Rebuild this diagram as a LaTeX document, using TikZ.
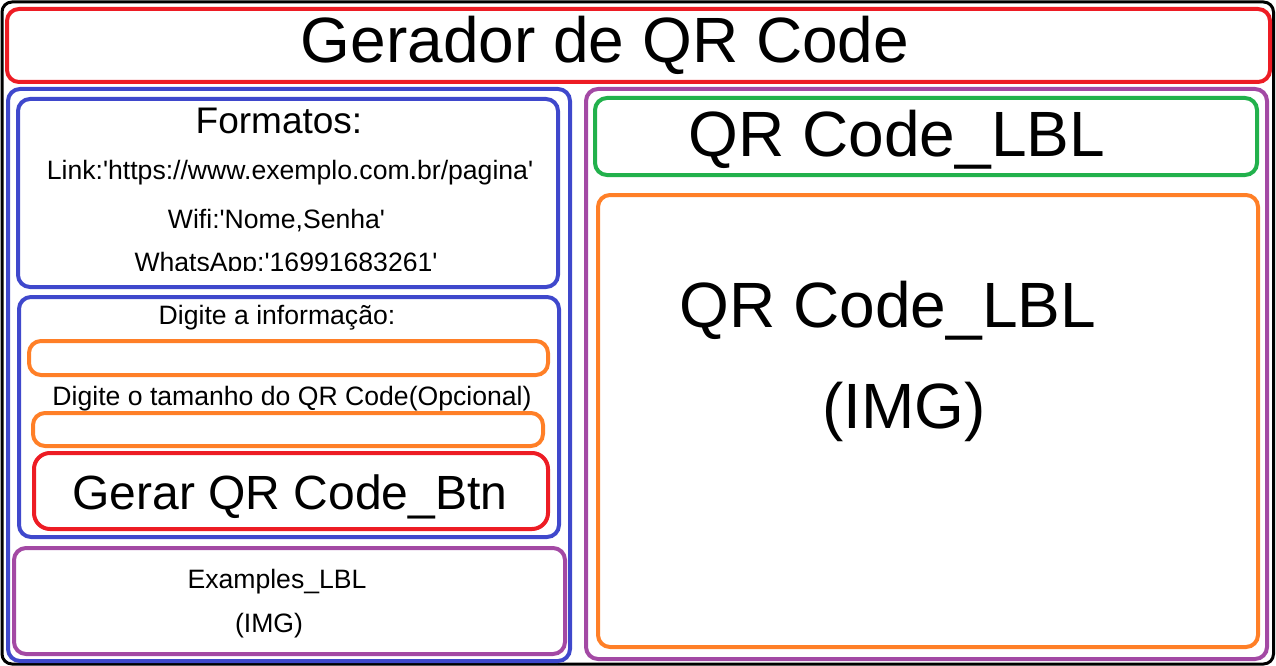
\documentclass[tikz,border=0pt]{standalone}
\usepackage{fontspec}
\setmainfont{Liberation Sans}[Ligatures=TeXOff]
\definecolor{paintRed}{HTML}{ED1C24}
\definecolor{paintBlue}{HTML}{3F48CC}
\definecolor{paintOrange}{HTML}{FF7F27}
\definecolor{paintGreen}{HTML}{22B14C}
\definecolor{paintPurple}{HTML}{A349A4}
\begin{document}
\begin{tikzpicture}[x=1pt, y=-1pt,
        box/.style={draw, rounded corners=12pt, line width=4pt, inner sep=0pt},
        redBox/.style={box, paintRed},
        blueBox/.style={box, paintBlue},
        orangeBox/.style={box, paintOrange},
        greenBox/.style={box, paintGreen},
        purpleBox/.style={box, paintPurple},
        field/.style={box, paintOrange, rounded corners=12pt},
        txt/.style={anchor=base, inner sep=0pt, font=\fontsize{26.6}{26.6}\selectfont},
        bigTxt/.style={anchor=base, inner sep=0pt, font=\fontsize{64}{64}\selectfont}]

        \useasboundingbox (0,0) rectangle (1276,666);
        \draw[line width=3pt, rounded corners=10pt] (2,2) rectangle (1273.5,664);

        % title
        \node[redBox, minimum width=1263, minimum height=73] (title) at (638.5,45.5) {};
        \node[bigTxt] (titleTxt) at (605,63) {Gerador de QR Code};

        % left column
        \node[blueBox, minimum width=562, minimum height=572] (left) at (289,375) {};
        \node[blueBox, minimum width=540, minimum height=188] (formats) at (288,193) {};
        \node[txt, font=\fontsize{37}{37}\selectfont] (formatsTxt) at (279,133) {Formatos:};
        \node[txt] (link) at (290,179) {Link:'https://www.exemplo.com.br/pagina'};
        \node[txt] (wifi) at (276.5,228) {Wifi:'Nome,Senha'};
        \begin{scope}
            \clip (20,100) rectangle (556,270.5);
            \node[txt] (whats) at (286,271) {WhatsApp:'16991683261'};
        \end{scope}

        \node[blueBox, minimum width=540, minimum height=240] (inputs) at (289,417) {};
        \node[txt] (infoTxt) at (277,324) {Digite a informação:};
        \node[field, minimum width=519, minimum height=34] (infoField) at (288.5,358) {};
        \node[txt] (sizeTxt) at (292,405) {Digite o tamanho do QR Code(Opcional)};
        \node[field, minimum width=510, minimum height=33] (sizeField) at (288,429.5) {};
        \node[redBox, rounded corners=16pt, minimum width=514, minimum height=76] (btn) at (291,491) {};
        \node[bigTxt, font=\fontsize{48}{48}\selectfont] (btnTxt) at (290,509) {Gerar QR Code\_Btn};

        \node[purpleBox, minimum width=551, minimum height=106] (examples) at (289.5,601) {};
        \node[txt] (examplesTxt) at (277,588) {Examples\_LBL};
        \node[txt] (examplesImg) at (269,632) {(IMG)};

        % right column
        \node[purpleBox, minimum width=681, minimum height=570] (right) at (926.5,374) {};
        \node[greenBox, minimum width=662, minimum height=77] (lblBox) at (926,136.5) {};
        \node[bigTxt] (lblTxt) at (897,156) {QR Code\_LBL};
        \node[orangeBox, minimum width=660, minimum height=452] (imgBox) at (928,421) {};
        \node[bigTxt] (imgLbl) at (888,327) {QR Code\_LBL};
        \node[bigTxt] (imgTxt) at (904,428) {(IMG)};
\end{tikzpicture}
\end{document}
